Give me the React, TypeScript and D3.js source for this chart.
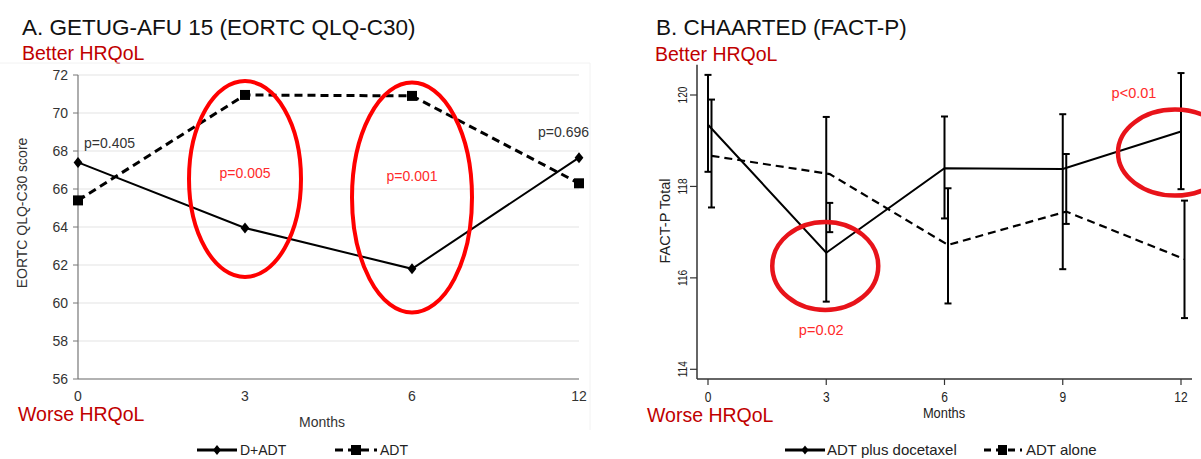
import * as d3 from "d3";

// GETUG-AFU 15 (EORTC QLQ-C30)
const getugMonths = ["0", "3", "6", "12"];
const getugDADT = [67.4, 63.95, 61.8, 67.65];
const getugADT = [65.4, 70.95, 70.9, 66.3];
const getugTicks = [56, 58, 60, 62, 64, 66, 68, 70, 72];
const getugPlain = [
  { month: "0", text: "p=0.405" },
  { month: "12", text: "p=0.696" },
];
const getugCircled = [
  { month: "3", top: 71.68, bottom: 61.37, text: "p=0.005" },
  { month: "6", top: 71.6, bottom: 59.5, text: "p=0.001" },
];

// CHAARTED (FACT-P)
const chaartedMonths = [0, 3, 6, 9, 12];
const docetaxelMean = [119.35, 116.55, 118.4, 118.38, 119.2];
const docetaxelLow = [118.32, 115.48, 117.3, 116.19, 117.94];
const docetaxelHigh = [120.44, 119.52, 119.53, 119.58, 120.48];
const aloneMean = [118.67, 118.27, 116.72, 117.45, 116.41];
const aloneLow = [117.54, 117.0, 115.44, 117.18, 115.12];
const aloneHigh = [119.9, 117.64, 117.96, 118.71, 117.69];
const chaartedYTicks = [114, 116, 118, 120];
const chaartedCircled = [
  { month: 3, value: 116.26, text: "p=0.02" },
  { month: 12, value: 118.74, text: "p<0.01" },
];

const font = "'Liberation Sans', Arial, sans-serif";
const red = "#c00000";

const diamond = (s: number) => `M0,${-s}L${s * 0.8},0L0,${s}L${-s * 0.8},0Z`;

const GetugPanel = () => {
  const x = d3.scalePoint<string>().domain(getugMonths).range([78, 579]);
  const y = d3.scaleLinear().domain([56, 72]).range([379, 75]);
  const line = d3
    .line<number>()
    .x((_, i) => x(getugMonths[i])!)
    .y((d) => y(d));

  return (
    <g fontFamily={font}>
      <text x={22} y={35} fontSize={22.5} fill="#111">
        A. GETUG-AFU 15 (EORTC QLQ-C30)
      </text>
      <text x={22} y={60} fontSize={19.5} fill={red}>
        Better HRQoL
      </text>
      <line x1={0} x2={590} y1={63} y2={63} stroke="#f2f2f2" />
      <line x1={590} x2={590} y1={63} y2={430} stroke="#f2f2f2" />

      {getugTicks.slice(1).map((t) => (
        <line key={t} x1={78} x2={579} y1={y(t)} y2={y(t)} stroke="#e4e4e4" strokeWidth={1.2} />
      ))}
      <line x1={78} x2={78} y1={y(72)} y2={y(56)} stroke="#777" strokeWidth={1.2} />
      <line x1={78} x2={579} y1={y(56)} y2={y(56)} stroke="#666" strokeWidth={1.2} />
      {getugTicks.map((t) => (
        <g key={t}>
          <line x1={73} x2={78} y1={y(t)} y2={y(t)} stroke="#777" />
          <text x={68} y={y(t)} dy="0.35em" textAnchor="end" fontSize={14} fill="#333">
            {t}
          </text>
        </g>
      ))}
      {getugMonths.map((m) => (
        <text key={m} x={x(m)} y={396} dy="0.35em" textAnchor="middle" fontSize={14} fill="#333">
          {m}
        </text>
      ))}
      <text
        transform="translate(27,213) rotate(-90)"
        textAnchor="middle"
        fontSize={14}
        fill="#333"
      >
        EORTC QLQ-C30 score
      </text>
      <text x={322} y={427} textAnchor="middle" fontSize={14} fill="#333">
        Months
      </text>
      <text x={18} y={421} fontSize={19.5} fill={red}>
        Worse HRQoL
      </text>

      <path d={line(getugADT)!} fill="none" stroke="#000" strokeWidth={3} strokeDasharray="8,5" />
      <path d={line(getugDADT)!} fill="none" stroke="#000" strokeWidth={2} />
      {getugADT.map((v, i) => (
        <rect key={i} x={x(getugMonths[i])! - 5} y={y(v) - 5} width={10} height={10} fill="#000" />
      ))}
      {getugDADT.map((v, i) => (
        <path
          key={i}
          transform={`translate(${x(getugMonths[i])},${y(v)})`}
          d={diamond(5.5)}
          fill="#000"
        />
      ))}

      {getugPlain.map((p) => {
        const i = getugMonths.indexOf(p.month);
        const top = Math.max(getugDADT[i], getugADT[i]);
        return (
          <text
            key={p.text}
            x={i === 0 ? x(p.month)! + 6 : x(p.month)! - 41}
            y={y(top) - (i === 0 ? 14 : 21)}
            fontSize={14}
            fill="#333"
          >
            {p.text}
          </text>
        );
      })}
      {getugCircled.map((c) => {
        const cy = (y(c.top) + y(c.bottom)) / 2;
        const ry = (y(c.bottom) - y(c.top)) / 2;
        return (
          <g key={c.text}>
            <ellipse
              cx={x(c.month)}
              cy={cy}
              rx={c.month === "3" ? 56 : 60}
              ry={ry}
              fill="none"
              stroke="#ff0000"
              strokeWidth={4}
            />
            <text
              x={x(c.month)}
              y={c.month === "3" ? 173 : 176}
              dy="0.35em"
              textAnchor="middle"
              fontSize={14}
              fill="#ff2a2a"
            >
              {c.text}
            </text>
          </g>
        );
      })}

      <g fontSize={14} fill="#222">
        <line x1={197} x2={237} y1={450} y2={450} stroke="#000" strokeWidth={3} />
        <path transform="translate(217,450)" d={diamond(5)} fill="#000" />
        <text x={240} y={450} dy="0.35em">
          D+ADT
        </text>
        <line x1={335} x2={377} y1={450} y2={450} stroke="#000" strokeWidth={3} strokeDasharray="8,5" />
        <rect x={351} y={445} width={10} height={10} fill="#000" />
        <text x={380} y={450} dy="0.35em">
          ADT
        </text>
      </g>
    </g>
  );
};

const ChaartedPanel = () => {
  const x = d3.scaleLinear().domain([0, 12]).range([708, 1181]);
  const y = d3.scaleLinear().domain([114, 120]).range([369.3, 95]);
  const shift = 3.5;
  const solidLine = d3
    .line<number>()
    .x((_, i) => x(chaartedMonths[i]))
    .y((d) => y(d));
  const dashLine = d3
    .line<number>()
    .x((_, i) => x(chaartedMonths[i]) + shift)
    .y((d) => y(d));

  const bars = (low: number[], high: number[], dx: number) =>
    chaartedMonths.map((m, i) => {
      const bx = x(m) + dx;
      return (
        <g key={`${dx}-${m}`} stroke="#000" strokeWidth={2}>
          <line x1={bx} x2={bx} y1={y(low[i])} y2={y(high[i])} />
          <line x1={bx - 3.5} x2={bx + 3.5} y1={y(low[i])} y2={y(low[i])} />
          <line x1={bx - 3.5} x2={bx + 3.5} y1={y(high[i])} y2={y(high[i])} />
        </g>
      );
    });

  return (
    <g fontFamily={font}>
      <text x={656} y={35} fontSize={22.5} fill="#111">
        B. CHAARTED (FACT-P)
      </text>
      <text x={655} y={61} fontSize={19.5} fill={red}>
        Better HRQoL
      </text>

      <line x1={697} x2={697} y1={y(120.66)} y2={379} stroke="#333" strokeWidth={1.5} />
      <line x1={697} x2={1192} y1={379} y2={379} stroke="#333" strokeWidth={1.5} />
      {chaartedYTicks.map((t) => (
        <g key={t}>
          <line x1={690} x2={697} y1={y(t)} y2={y(t)} stroke="#333" strokeWidth={1.2} />
          <text
            transform={`translate(687,${y(t)}) rotate(-90) scale(0.78,1)`}
            textAnchor="middle"
            fontSize={13}
            fill="#222"
          >
            {t}
          </text>
        </g>
      ))}
      {chaartedMonths.map((m) => (
        <g key={m}>
          <line x1={x(m)} x2={x(m)} y1={379} y2={385} stroke="#333" strokeWidth={1.2} />
          <text
            transform={`translate(${x(m)},397) scale(0.8,1)`}
            dy="0.35em"
            textAnchor="middle"
            fontSize={15}
            fill="#222"
          >
            {m}
          </text>
        </g>
      ))}
      <text
        transform="translate(944,413) scale(0.92,1)"
        dy="0.35em"
        textAnchor="middle"
        fontSize={14}
        fill="#222"
      >
        Months
      </text>
      <text
        transform="translate(665,221) rotate(-90)"
        dy="0.35em"
        textAnchor="middle"
        fontSize={14.5}
        fill="#222"
      >
        FACT-P Total
      </text>
      <text x={647} y={422} fontSize={19.5} fill={red}>
        Worse HRQoL
      </text>

      <path d={dashLine(aloneMean)!} fill="none" stroke="#000" strokeWidth={2.2} strokeDasharray="8,5" />
      <path d={solidLine(docetaxelMean)!} fill="none" stroke="#000" strokeWidth={2} />
      {bars(docetaxelLow, docetaxelHigh, 0)}
      {bars(aloneLow, aloneHigh, shift)}

      {chaartedCircled.map((c) => {
        const first = c.month === 3;
        return (
          <g key={c.text}>
            <ellipse
              cx={x(c.month) + (first ? -1 : -6)}
              cy={y(c.value)}
              rx={first ? 53 : 57}
              ry={first ? 44 : 43}
              fill="none"
              stroke="#e8131a"
              strokeWidth={4.5}
            />
            <text
              x={first ? x(c.month) - 5 : x(c.month) - 47}
              y={first ? 330 : 93}
              dy="0.35em"
              textAnchor="middle"
              fontSize={14.5}
              fill="#ff2a2a"
            >
              {c.text}
            </text>
          </g>
        );
      })}

      <g fontSize={15} fill="#222">
        <line x1={785} x2={825} y1={450} y2={450} stroke="#000" strokeWidth={3} />
        <path transform="translate(805,450)" d={diamond(4.5)} fill="#000" />
        <text x={827} y={450} dy="0.35em">
          ADT plus docetaxel
        </text>
        <line x1={984} x2={1022} y1={450} y2={450} stroke="#000" strokeWidth={3} strokeDasharray="7,5" />
        <rect x={998} y={445} width={9} height={10} fill="#000" />
        <text x={1026} y={450} dy="0.35em">
          ADT alone
        </text>
      </g>
    </g>
  );
};

const App = () => {
  return (
    <svg
      width={1201}
      height={459}
      style={{ position: "absolute", left: 0, top: 0, background: "#fff" }}
    >
      <rect width={1201} height={459} fill="#fff" />
      <GetugPanel />
      <ChaartedPanel />
    </svg>
  );
};

export default App;
